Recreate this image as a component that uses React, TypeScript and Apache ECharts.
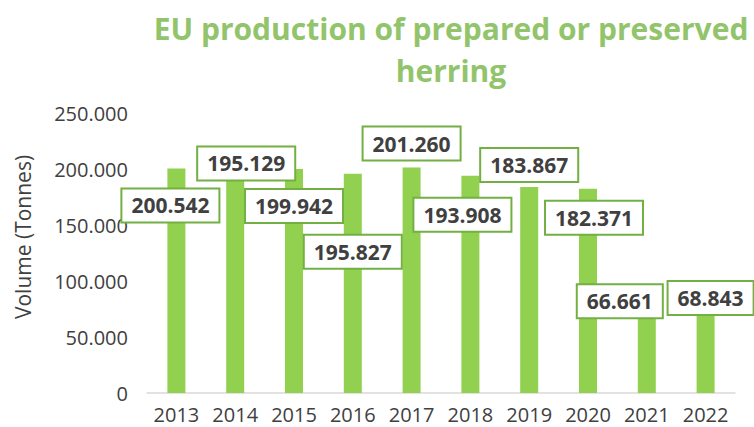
import React, { useEffect, useRef } from "react";
import * as echarts from "echarts";

const years = ["2013", "2014", "2015", "2016", "2017", "2018", "2019", "2020", "2021", "2022"];
const volumes = [200542, 195129, 199942, 195827, 201260, 193908, 183867, 182371, 66661, 68843];
const yTicks = [0, 50000, 100000, 150000, 200000, 250000];
const labelOffsets: [number, number][] = [
  [-6, 53], [11, 5], [0, 53], [0, 94], [0, -8], [-8, 55], [0, -6], [6, 45], [-27, -1], [5, -2],
];

const fmt = (v: number) => {
  if (v === 0) return "0";
  const s = Math.round(v).toString();
  return s.replace(/\B(?=(\d{3})+(?!\d))/g, ".");
};

export default function App() {
  const ref = useRef<HTMLDivElement>(null);
  useEffect(() => {
    if (!ref.current) return;
    const chart = echarts.init(ref.current, undefined, { renderer: "svg" });
    const font = "Open Sans";
    chart.setOption({
      animation: false,
      title: {
        text: "EU production of prepared or preserved\nherring",
        left: 446,
        top: 2,
        textAlign: "center",
        textStyle: {
          fontFamily: font,
          fontWeight: "bold",
          fontSize: 30,
          lineHeight: 42,
          color: "#92c46c",
        },
      },
      grid: { left: 147, right: 19, top: 113, bottom: 34, containLabel: false },
      xAxis: {
        type: "category",
        data: years,
        axisLine: { show: true, lineStyle: { color: "#d9d9d9", width: 1.5 } },
        axisTick: { show: false },
        axisLabel: {
          interval: 0,
          fontFamily: font,
          fontSize: 20,
          lineHeight: 20,
          color: "#404040",
          margin: 11,
        },
      },
      yAxis: {
        type: "value",
        min: yTicks[0],
        max: yTicks[yTicks.length - 1],
        interval: 50000,
        splitLine: { show: false },
        axisLine: { show: false },
        axisTick: { show: false },
        axisLabel: {
          fontFamily: font,
          fontSize: 20,
          color: "#404040",
          margin: 19,
          formatter: (v: number) => fmt(v),
        },
      },
      graphic: [
        {
          type: "text",
          x: 23,
          y: 237,
          rotation: Math.PI / 2,
          style: {
            text: "Volume (Tonnes)",
            fontFamily: font,
            fontSize: 21,
            fill: "#404040",
            align: "center",
            verticalAlign: "middle",
          },
        },
      ],
      series: [
        {
          type: "bar",
          barWidth: 18,
          itemStyle: { color: "#92d050" },
          data: volumes.map((v, i) => ({
            value: v,
            label: { offset: labelOffsets[i] },
          })),
          label: {
            show: true,
            position: "top",
            distance: 0,
            formatter: (p: any) => fmt(p.value),
            fontFamily: font,
            fontWeight: "bold",
            fontSize: 21,
            lineHeight: 22,
            color: "#404040",
            backgroundColor: "#ffffff",
            borderColor: "#72b043",
            borderWidth: 2,
            padding: [5, 9],
          },
        },
      ],
    });
    return () => chart.dispose();
  }, []);
  return <div ref={ref} style={{ width: 754, height: 427, position: "absolute", left: 0, top: 0 }} />;
}
